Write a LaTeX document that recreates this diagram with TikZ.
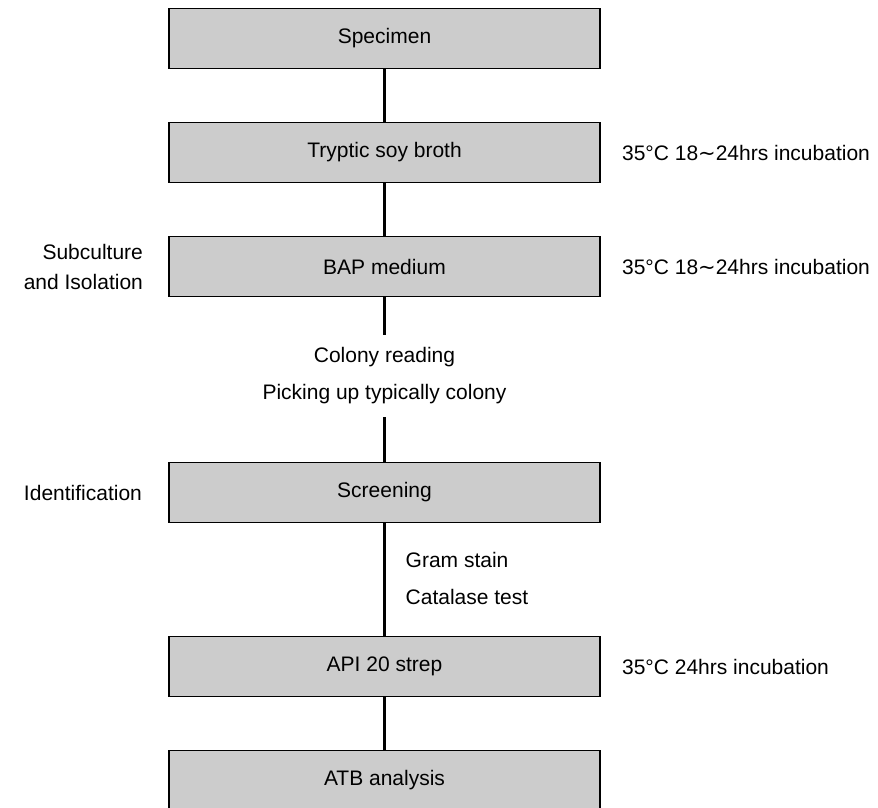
\documentclass[tikz,border=0pt]{standalone}
\usepackage{fontspec}
\setmainfont{Liberation Sans}
\newfontfamily\symfont{DejaVu Sans}
\usetikzlibrary{positioning}
\tikzstyle{stage} = [rectangle, minimum width=431pt, minimum height=60pt, text centered, draw=black, line width=1.8pt, fill=black!20, font=\fontsize{21pt}{25pt}\selectfont]
\tikzstyle{note} = [inner sep=0pt, font=\fontsize{21pt}{30pt}\selectfont]
\tikzstyle{step note} = [inner sep=0pt, font=\fontsize{21pt}{37pt}\selectfont]
\tikzstyle{link} = [line width=2.6pt]

\begin{document}
\begin{tikzpicture}[node distance=114pt]
\useasboundingbox (0,0) rectangle (878pt,-807pt);

\node (specimen) [stage] at (384.5pt,-38.5pt) {Specimen};
\node (tryptic) [stage, below of=specimen] {Tryptic soy broth};
\node (bap) [stage, below of=tryptic] {BAP medium};
\node (colony) [step note, below of=bap, yshift=4.5pt, minimum height=82pt, align=center] {Colony reading\\Picking up typically colony};
\node (screening) [stage, below of=bap, yshift=-112pt] {Screening};
\node (api) [stage, below of=screening, yshift=-60pt] {API 20 strep};
\node (atb) [stage, below of=api] {ATB analysis};

\node (gram) [step note, anchor=west, align=left] at ([xshift=21pt, yshift=-55pt]screening.south) {Gram stain\\Catalase test};

\node (inc1) [note, right=21pt of tryptic] {35°C 18{\symfont∼}24hrs incubation};
\node (inc2) [note, right=21pt of bap] {35°C 18{\symfont∼}24hrs incubation};
\node (inc3) [note, right=21pt of api] {35°C 24hrs incubation};
\node (isolation) [note, left=25pt of bap, align=right] {Subculture\\and Isolation};
\node (ident) [note, left=26pt of screening] {Identification};

\draw [link] (specimen) -- (tryptic);
\draw [link] (tryptic) -- (bap);
\draw [link] (bap) -- (colony);
\draw [link] (colony) -- (screening);
\draw [link] (screening) -- (api);
\draw [link] (api) -- (atb);

\end{tikzpicture}
\end{document}
